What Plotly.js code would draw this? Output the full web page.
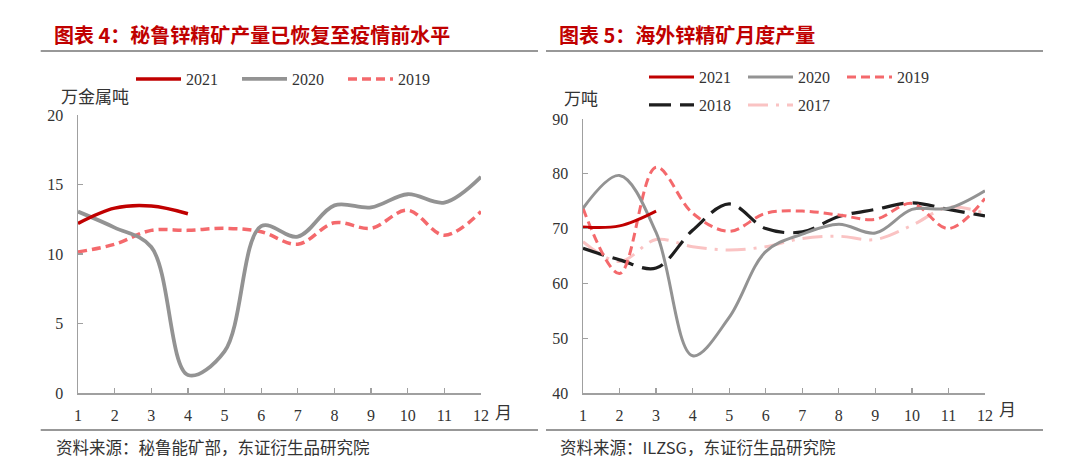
<!DOCTYPE html>
<html><head><meta charset="utf-8">
<script src="https://cdn.plot.ly/plotly-3.0.1.min.js"></script>
<style>html,body{margin:0;padding:0;background:#fff;}#chart{width:1080px;height:474px;}</style>
</head><body><div id="chart"></div>
<script>
// ---- data ----
var months = [1,2,3,4,5,6,7,8,9,10,11,12];
var monthLabels = ['1','2','3','4','5','6','7','8','9','10','11','12'];
// Peru zinc concentrate output (万金属吨)
var peru2021 = [12.2, 13.3, 13.45, 12.9];
var peru2020 = [13.05, 11.9, 10.5, 1.3, 3.0, 12.0, 11.25, 13.5, 13.35, 14.3, 13.7, 15.55];
var peru2019 = [10.15, 10.7, 11.7, 11.7, 11.85, 11.6, 10.7, 12.25, 11.85, 13.15, 11.35, 13.05];
// Overseas zinc concentrate monthly output (万吨)
var ovs2021 = [70.3, 70.5, 73.2];
var ovs2020 = [73.7, 79.7, 69.3, 46.8, 53.8, 65.8, 69.0, 70.8, 69.2, 73.5, 73.7, 76.9];
var ovs2019 = [73.7, 61.8, 81.2, 72.8, 69.5, 72.8, 73.2, 72.5, 71.7, 74.6, 70.0, 75.5];
var ovs2018 = [66.4, 64.3, 62.8, 69.7, 74.5, 70.0, 69.4, 72.2, 73.5, 74.7, 73.5, 72.3];
var ovs2017 = [67.6, 64.0, 68.0, 66.7, 66.1, 66.7, 68.2, 68.6, 68.0, 70.6, 73.9, 72.8];
var seriesNames = ['2021','2020','2019','2018','2017'];

var W = 1080, H = 474;
function px(x){return x/W;}
function py(y){return 1 - y/H;}

var C21 = '#C00000', C20 = '#939393', C19 = '#F4696C', C18 = '#1E1E1E', C17 = '#FAC3C3';
var serif = 'Liberation Serif, Times New Roman, serif';
var cjk = 'Noto Sans CJK SC, sans-serif';

function tr(x, y, name, color, width, dash, xa, ya, leg, rank){
  return {type:'scatter', mode:'lines', x:x, y:y, name:name, xaxis:xa, yaxis:ya,
    line:{color:color, width:width, dash:dash, shape:'spline', smoothing:1},
    legend:leg, legendrank:rank, hoverinfo:'skip'};
}

var data = [
  tr(months, peru2019, seriesNames[2], C19, 3.5, '9px,5px', 'x', 'y', 'legend', 3),
  tr(months, peru2020, seriesNames[1], C20, 3.8, 'solid', 'x', 'y', 'legend', 2),
  tr(months.slice(0, peru2021.length), peru2021, seriesNames[0], C21, 3.5, 'solid', 'x', 'y', 'legend', 1),
  tr(months, ovs2017, seriesNames[4], C17, 3, '20px,8px,3px,8px', 'x2', 'y2', 'legend3', 2),
  tr(months, ovs2018, seriesNames[3], C18, 3.2, '22px,9px', 'x2', 'y2', 'legend3', 1),
  tr(months, ovs2019, seriesNames[2], C19, 3, '9px,5px', 'x2', 'y2', 'legend2', 3),
  tr(months, ovs2020, seriesNames[1], C20, 3, 'solid', 'x2', 'y2', 'legend2', 2),
  tr(months.slice(0, ovs2021.length), ovs2021, seriesNames[0], C21, 3, 'solid', 'x2', 'y2', 'legend2', 1)
];

var axCol = '#A0A0A0';
function xax(dom, anchor){
  return {domain:dom, anchor:anchor, range:[1,12], tickmode:'array', tickvals:months, ticktext:monthLabels,
    showgrid:false, zeroline:false, showline:true, linecolor:axCol, linewidth:1.5,
    ticks:'inside', ticklen:5, tickwidth:1.2, tickcolor:axCol, ticklabelstandoff:7,
    tickfont:{family:serif, size:16, color:'#333'}, fixedrange:true};
}
function yax(dom, anchor, rng, dt){
  return {domain:dom, anchor:anchor, range:rng, dtick:dt, tick0:rng[0],
    showgrid:false, zeroline:false, showline:true, linecolor:axCol, linewidth:1.5,
    ticks:'inside', ticklen:5, tickwidth:1.2, tickcolor:axCol, ticklabelstandoff:10,
    tickfont:{family:serif, size:16, color:'#333'}, fixedrange:true};
}
function leg(x, y, ew){
  return {x:px(x), y:py(y), xanchor:'left', yanchor:'middle', orientation:'h',
    font:{family:serif, size:16, color:'#333'}, itemwidth:45, entrywidth:ew, entrywidthmode:'pixels',
    bgcolor:'rgba(0,0,0,0)', borderwidth:0, itemclick:false, itemdoubleclick:false, tracegroupgap:0};
}
function ann(text, x, y, xanchor, font){
  return {text:text, x:px(x), y:py(y), xref:'paper', yref:'paper', xanchor:xanchor, yanchor:'middle',
    showarrow:false, font:font};
}
function hline(x0, x1, y){
  return {type:'line', xref:'paper', yref:'paper', x0:px(x0), x1:px(x1), y0:py(y), y1:py(y),
    line:{color:'#333', width:1.2}};
}
var titleFont = {family:cjk, size:20, color:C21, weight:700};
var txtFont = {family:cjk, size:16.5, color:'#333'};

var layout = {
  width:W, height:H, margin:{l:0, r:0, t:0, b:0, pad:0},
  paper_bgcolor:'#fff', plot_bgcolor:'rgba(0,0,0,0)', showlegend:true,
  xaxis: xax([px(78), px(481)], 'y'),
  yaxis: yax([py(393), py(115)], 'x', [0,20], 5),
  xaxis2: xax([px(583), px(985)], 'y2'),
  yaxis2: yax([py(393), py(119)], 'x2', [40,90], 10),
  legend: leg(131, 79, 46),
  legend2: leg(644, 77, 39),
  legend3: leg(644, 105, 39),
  annotations: [
    ann('图表 4：秘鲁锌精矿产量已恢复至疫情前水平', 52, 35, 'left', titleFont),
    ann('图表 5：海外锌精矿月度产量', 557, 35, 'left', titleFont),
    ann('万金属吨', 59, 96, 'left', {family:cjk, size:17, color:'#333'}),
    ann('万吨', 562, 97, 'left', {family:cjk, size:17, color:'#333'}),
    ann('月', 503, 411, 'center', {family:cjk, size:17, color:'#333'}),
    ann('月', 1007, 408, 'center', {family:cjk, size:17, color:'#333'}),
    ann('资料来源：秘鲁能矿部，东证衍生品研究院', 54, 447, 'left', txtFont),
    ann('资料来源：ILZSG，东证衍生品研究院', 558, 447, 'left', txtFont)
  ],
  shapes: [hline(40.7, 538, 51), hline(546, 1043, 51), hline(40.7, 538, 430), hline(546, 1043, 430)]
};

Plotly.newPlot('chart', data, layout, {staticPlot:true, displayModeBar:false});
</script></body></html>
